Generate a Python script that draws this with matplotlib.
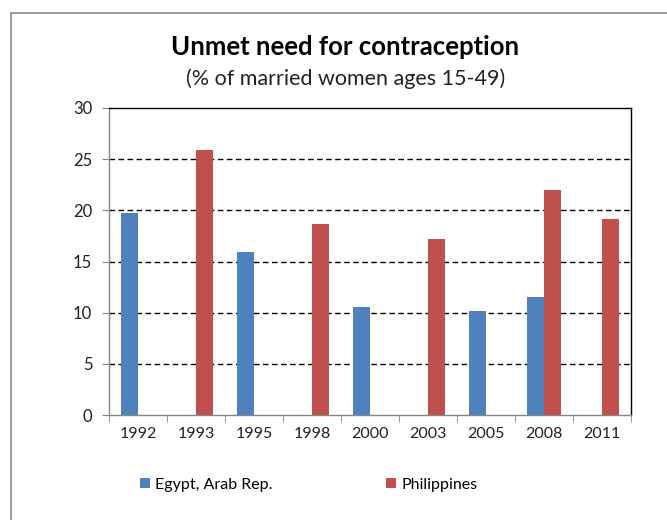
import numpy as np
import matplotlib
matplotlib.use("Agg")
import matplotlib.pyplot as plt
from matplotlib.patches import Rectangle

years = ["1992", "1993", "1995", "1998", "2000", "2003", "2005", "2008", "2011"]
egypt = [19.7, np.nan, 15.9, np.nan, 10.6, np.nan, 10.2, 11.5, np.nan]
philippines = [np.nan, 25.9, np.nan, 18.7, np.nan, 17.2, np.nan, 22.0, 19.2]
yTicks = [0, 5, 10, 15, 20, 25, 30]

plt.rcParams['font.family'] = ['Lato', 'DejaVu Sans']
blue, red = "#4F81BD", "#C0504D"
axisGray = "#868686"

fig = plt.figure(figsize=(6.67, 5.2), dpi=100)
ax = fig.add_axes([109/667, 105/520, 522/667, 307/520])

x = np.arange(len(years))
barW = 0.29
ax.bar(x - barW/2, egypt, width=barW, color=blue, label="Egypt, Arab Rep.")
ax.bar(x + barW/2, philippines, width=barW, color=red, label="Philippines")

ax.set_xlim(-0.5, len(years) - 0.5)
ax.set_ylim(0, 30)
ax.set_yticks(yTicks)
ax.set_yticklabels([str(t) for t in yTicks])
ax.set_xticks(x)
ax.set_xticklabels(years)
ax.set_xticks(np.arange(-0.5, len(years)), minor=True)
ax.tick_params(axis='x', which='major', length=0, pad=9, labelsize=11.5, colors="#222222")
ax.tick_params(axis='x', which='minor', length=5, color=axisGray)
ax.tick_params(axis='y', length=5, color=axisGray, labelsize=12, pad=7, labelcolor="#222222")

for yv in yTicks[1:-1]:
    ax.axhline(yv, color="black", lw=1, ls=(0, (4, 2.5)), zorder=0)

ax.spines['left'].set_color(axisGray)
ax.spines['bottom'].set_color(axisGray)
ax.spines['top'].set_color("black")
ax.spines['right'].set_color("black")
for s in ax.spines.values():
    s.set_linewidth(1)

fig.text(345/667, 1 - 47/520, "Unmet need for contraception", ha="center", va="center",
         fontsize=18.5, fontweight="bold", color="black")
fig.text(346/667, 1 - 79/520, "(% of married women ages 15-49)", ha="center", va="center",
         fontsize=15.5, color="#222222")

fig.legend(loc="center left", bbox_to_anchor=(140/667, 1 - 485/520), ncol=2, frameon=False,
           fontsize=11.5, handlelength=0.6, handleheight=0.6, handletextpad=0.35,
           columnspacing=7.1, borderaxespad=0, borderpad=0)

fig.add_artist(Rectangle((11/667, -0.1), 2, 1.1 - 13/520, transform=fig.transFigure,
                         fill=False, edgecolor="#8c8c8c", lw=1.2))

plt.savefig("out.png", dpi=100)
plt.close()
